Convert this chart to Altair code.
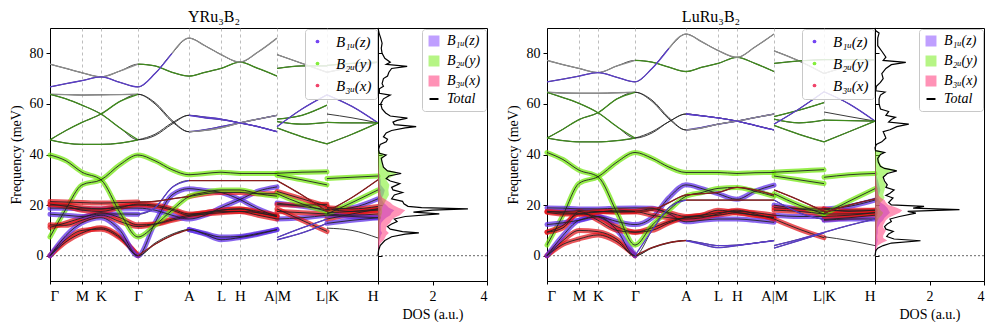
import json
import altair as alt
import pandas as pd

FONT = "Liberation Serif"

# ---------------- path / axes ----------------
NODE_U = [0, 32, 51, 88, 139, 171, 190, 227, 277, 328]
NODE_LABELS = ["Γ", "M", "K", "Γ", "A", "L", "H", "A|M", "L|K", "H"]
PIECE_U = [
    [0, 16, 32, 51, 70, 88, 105, 122, 139, 155, 171, 190, 208, 227],
    [227, 252, 277],
    [277, 302, 328],
]
Y_TICKS = [0, 20, 40, 60, 80]
DOS_TICKS = [2, 4]
TITLES = ["YRu₃B₂", "LuRu₃B₂"]

# ---------------- YRu3B2 bands (piece1 14 pts | piece2 3 | piece3 3) ----------------
Y_L1 = [0, 5.5, 9, 11, 7.5, 0, 5, 8.5, 10.3, 8.5, 6.3, 7.2, 8.5, 10.3, 6.3, 9, 12.8, 10.9, 10, 7]
Y_L2 = [0, 6.5, 10, 10.5, 7, 0, 4.5, 8, 10.3, 8.8, 7.4, 7.6, 8.8, 10.3, 7.2, 11, 14.5, 12.8, 14, 15]
Y_L3 = [0, 8, 13, 15, 10, 0, 13, 24, 26.5, 25.8, 25, 22.2, 18.5, 15.5, 14.5, 15, 16, 14.5, 16.5, 18.5]
Y_L4 = [7.4, 18.5, 28, 30, 36, 39.8, 37.5, 34, 32, 32.5, 33, 32.5, 32.5, 32.5, 32.6, 33, 33.2, 30.5, 31, 31.5]
Y_L5 = [11.2, 13, 15, 17, 15, 12.2, 12.5, 14, 15.5, 16.5, 17.5, 17.5, 16, 14.5, 17.5, 17, 16.5, 16.5, 16, 16.5]
Y_L6 = [12.2, 12, 14, 16, 13.5, 11.5, 12.5, 14.5, 16, 17, 18, 18.5, 17, 15.5, 18.5, 14, 9.6, 17, 17.5, 18.5]
Y_L7 = [16.4, 16, 15.5, 16.5, 16.5, 16.4, 19, 27, 29.7, 29.7, 29.7, 29.7, 29.7, 29.7, 29.7, 24, 17.5, 17.5, 23, 30]
Y_L8 = [18.8, 18.8, 18.5, 18.5, 18.8, 18.8, 18, 16, 14.5, 16, 19, 22.2, 25.5, 27.2, 20.8, 19.5, 18.2, 18.2, 19, 22.5]
Y_L9 = [21.4, 21.2, 21, 20.8, 21, 21.2, 21.5, 22.5, 23.4, 24.5, 25, 25, 24.5, 24.5, 25.4, 22.5, 19.5, 19, 18.5, 19.5]
Y_L10 = [20.4, 19.5, 18, 17.5, 19, 20.4, 20, 18.5, 16.5, 17, 18, 18.5, 17.5, 16, 20.2, 20, 20.3, 16, 15.5, 15]
Y_L11 = [20, 20, 19, 18.5, 19.5, 20, 19.5, 18, 16, 16.5, 17, 17.5, 17, 15.5, 24.5, 20.5, 17.5, 16.5, 21, 26]
Y_L12 = [39.8, 37.5, 33, 30, 17, 7.4, 12, 18, 23.4, 25, 26, 26, 24.5, 23.5, 31.8, 30, 28, 18.5, 17.5, 18]
Y_H1 = [75.7, 74, 72.3, 70.7, 73, 75.7, 75, 72.5, 71, 72.5, 74, 76.5, 74, 71, 79.5, 76, 72.5, 72.5, 74.5, 76.5]
Y_H2 = [66.7, 68, 69.2, 70.7, 68.5, 66.7, 72, 80, 86, 83, 79.5, 76.5, 80.5, 86, 74, 75, 75, 75.2, 76, 76.5]
Y_H3 = [63.8, 63.7, 63.5, 63.6, 63.7, 63.8, 60, 53, 49, 49.8, 51, 52.5, 54, 55.5, 54, 55.5, 59.5, 56, 54.5, 52.5]
Y_H4 = [63.8, 62, 59.5, 56, 50.5, 45.8, 47.5, 52, 55.5, 54.5, 53.8, 52.5, 51, 49, 53, 52, 52.7, 63.6, 59, 52.5]
Y_H5 = [45.8, 49.5, 52.7, 56, 61, 63.8, 60.5, 53.5, 49, 49.5, 50.5, 52.5, 54, 55.5, 51, 58, 63.6, 52.7, 52.5, 52.5]
Y_H6 = [45.8, 44.5, 44, 44, 44.5, 45.8, 48, 52.5, 55.5, 54.8, 54, 52.5, 51, 49, 50.5, 47, 44.2, 44.2, 48, 52.5]

# projection character per segment: x/y/z fat, X/Y/Z thin coloured, g grey, . plain
Y_PROJ = [
    "xxxxx...zzzzz|ZZ|..", "xxxxxXXXzzzzz|ZZ|zz", "zzzzzzzzzzzzz|zz|xx", "yyyyyyyyyyyyy|yy|yy",
    "xxxxxxxxxxxxx|xx|xx", "xxxxxxxxxxxxx|xx|xx", "zzzzzZZZXXXXX|XX|XX", "zzzzzzzzzzzzz|zz|zz",
    "xxxxxXXXxxxxx|xx|xx", "xxxxxxxxxxxxx|xx|zz", "xxxxxxxxxxxxx|yy|yy", "yyyyyyyyyyyyy|yy|xx",
    "gggggYYYYYYYY|gg|gg", "ZZZZZZZgggggg|YY|YY", "ggggg...ZZZZZ|YY|..", "YYYYY...ZZZZZ|YY|ZZ",
    "YYYYY...ggggg|ZZ|YY", "YYYYY...ZZZZZ|YY|YY",
]

# ---------------- LuRu3B2 bands ----------------
L_L1 = [0, 4.5, 6.6, 8.2, 5.5, 0, 3, 5, 6, 4.5, 3.2, 4, 5, 6, 3, 6, 9, 7.5, 6, 4]
L_L2 = [0, 6, 10, 9.5, 6.5, 0, 3.2, 5.2, 6, 5, 4, 4.2, 5, 6, 4, 6.5, 9.2, 9.2, 12, 14.5]
L_L3 = [0, 8, 14, 15.5, 10, 0, 10, 19, 22, 22, 22, 22, 22, 22, 22, 17, 14.3, 14.3, 15, 16]
L_L4 = [4.2, 16, 28.6, 31.2, 37, 40.8, 38.5, 35, 32.9, 32.9, 32.9, 32.5, 32.8, 32.9, 33, 33.5, 34, 31, 32, 32.5]
L_L5 = [9.3, 12, 16.5, 15.4, 11.5, 9.3, 10, 13, 15, 15.5, 16, 17, 16, 15, 14.5, 10.5, 7.1, 14, 14.5, 14.5]
L_L6 = [17.4, 17.4, 17.8, 17.5, 17.4, 17.4, 18, 21, 24, 24.5, 25, 27, 26, 24, 26, 22, 17.5, 17.5, 18, 18]
L_L7 = [12.3, 13, 14, 15.4, 13.5, 12.3, 15, 23, 28, 26.5, 24.5, 22.3, 25.5, 27.9, 20, 18.5, 17.5, 18.5, 19.5, 22]
L_L8 = [18.9, 18.8, 18.5, 18.5, 18.8, 18.9, 18.8, 16.5, 13.4, 14, 14.5, 14.5, 14, 13.2, 16, 15.5, 15.5, 15.5, 16, 17]
L_L9 = [17.2, 16.5, 16.5, 17.5, 17.2, 17.4, 16, 15, 14.5, 15, 16.5, 18, 16.5, 14.5, 18, 17.5, 16.5, 16.5, 16.5, 17]
L_L10 = [9.3, 11, 17.5, 14, 10, 9.3, 11, 13.5, 15.2, 16, 18, 17, 16, 15.2, 19, 18.5, 18.5, 18.5, 17.5, 18]
L_L11 = [17.6, 17, 16.8, 17.2, 18, 17.6, 18.5, 17, 15.5, 16, 17, 17.5, 17, 16, 24.5, 20, 16.5, 16.5, 21.5, 26.5]
L_L12 = [40.8, 38, 33.8, 31.2, 17, 4.2, 12, 18, 23.5, 25, 26.6, 27, 25.5, 23.5, 31.5, 30, 28.5, 17, 20, 22.5]
L_H1 = [77.2, 75.5, 74, 72.4, 75, 77.2, 76.5, 74.5, 72.8, 74.5, 76, 78.4, 76, 72.8, 81, 77, 72, 72, 75, 77.5]
L_H2 = [68.7, 69.8, 71, 72.4, 70.5, 68.7, 74, 82, 87.6, 84.5, 81.1, 78.4, 82.5, 87.6, 76, 77, 77.5, 77.5, 77.5, 77.5]
L_H3 = [64.6, 64.3, 64.2, 64.2, 64.4, 64.6, 61, 54, 49.7, 50.7, 52, 53.2, 54.6, 56, 55, 57.5, 60.5, 56.8, 55, 53.2]
L_H4 = [64.6, 62.5, 60.2, 56.5, 51, 46.5, 48.5, 53, 56, 55.3, 54.5, 53.2, 51.5, 49.7, 54, 52.5, 53.6, 64.8, 60, 53.2]
L_H5 = [46.5, 50, 53.8, 56.5, 62, 64.6, 61.5, 54.5, 49.7, 50.5, 52, 53.2, 54.6, 56, 52, 58, 64.8, 53.6, 53.4, 53.2]
L_H6 = [46.5, 45.5, 45, 45, 45.5, 46.5, 49, 53, 56, 55.3, 54.5, 53.2, 51.5, 49.7, 51.5, 48, 45, 45, 49, 53.2]

L_PROJ = [
    "xxxxx...ZZZZZ|ZZ|..", "xxxxxXXXZZZZZ|ZZ|ZZ", "zzzzzZZZXXXXX|ZZ|xx", "yyyyyyyyyyyyy|yy|yy",
    "xxxxxxxxxxxxx|xx|zz", "xxxxxXXXXXXXX|XX|xx", "zzzzzzzzzzzzz|zz|zz", "zzzzzzzzzzzzz|zz|xx",
    "xxxxxxxxxxxxx|xx|xx", "xxxxxxxxxxxxx|xx|xx", "xxxxxxxxxxxxx|yy|yy", "yyyyyyyyyyyyy|yy|XX",
    "gggggYYYYYYYY|gg|gg", "ZZZZZZZgggggg|YY|YY", "ggggg...ZZZZZ|YY|..", "YYYYY...ZZZZZ|YY|ZZ",
    "YYYYY...ggggg|ZZ|YY", "YYYYY...ZZZZZ|YY|YY",
]

# ---------------- DOS ----------------
Y_TOT_F = [0, 2, 4, 6, 7.5, 8.5, 9, 9.5, 10.5, 11.5, 12.5, 13.5, 14.5, 15.5, 16.5, 17.2, 18, 18.5, 19, 19.5,
           20.5, 21.5, 22.5, 24, 25, 26, 27, 28.5, 29.5, 30.5, 31.5, 32.5, 33.5, 35, 37, 38.5, 39.8, 40.5, 42, 44,
           45, 46, 47, 48.5, 49.5, 50.5, 51, 51.8, 52.8, 53.5, 54.4, 55.2, 56.4, 58, 60, 62, 63.5, 64.2, 66, 67,
           68, 70, 71, 72.5, 74, 74.8, 75.6, 76.5, 78, 80, 82, 84, 86, 88, 90]
Y_TOT_D = [0, 0.02, 0.08, 0.25, 0.5, 1.0, 1.5, 0.9, 0.45, 0.35, 0.5, 0.7, 0.6, 1.0, 2.25, 1.3, 2.0, 3.3, 1.6, 1.1,
           0.95, 0.9, 0.5, 0.6, 0.9, 0.55, 0.5, 0.8, 0.45, 0.3, 0.4, 0.85, 0.35, 0.2, 0.15, 0.12, 0.3, 0.05, 0.02, 0.08,
           0.3, 0.35, 0.2, 0.3, 0.5, 1.0, 1.4, 0.6, 0.55, 0.7, 1.08, 0.45, 0.28, 0.15, 0.1, 0.2, 0.45, 0.05, 0.05, 0.2,
           0.15, 0.2, 0.35, 0.4, 0.5, 1.07, 0.3, 0.45, 0.25, 0.15, 0.12, 0.15, 0.1, 0.04, 0]
L_TOT_F = [0, 2, 3, 4, 5, 5.9, 6.6, 7.6, 8.6, 9.6, 10.5, 11.5, 12.5, 13.5, 14.5, 15.5, 16.8, 17.5, 18.2, 18.8,
           19.5, 20.1, 21, 22.8, 23.8, 24.7, 26, 27, 28, 29.5, 31, 32.5, 33.5, 34.5, 35.3, 37, 38.5, 40, 40.8, 41.5,
           42.6, 44, 45, 46.5, 47.8, 49, 49.8, 51, 52, 52.8, 53.8, 54.7, 55.5, 57, 58, 60, 62, 63.5, 64.7, 65.2,
           67, 68.5, 70, 72, 74, 75.5, 76.4, 77.2, 78.5, 80.8, 83, 86, 88, 89, 90]
L_TOT_D = [0, 0.03, 0.1, 0.3, 0.6, 1.67, 0.7, 0.43, 0.5, 0.67, 0.4, 0.35, 0.45, 0.6, 0.55, 0.9, 1.5, 1.2, 3.1, 1.4,
           1.8, 0.6, 0.5, 0.66, 0.4, 0.55, 0.7, 0.4, 0.45, 0.35, 0.3, 0.45, 0.8, 0.35, 0.2, 0.12, 0.1, 0.2, 0.35, 0.02,
           0, 0.05, 0.25, 0.4, 0.35, 0.3, 0.55, 0.8, 1.24, 0.5, 0.6, 0.75, 0.4, 0.5, 0.2, 0.15, 0.15, 0.2, 0.37, 0.03,
           0.05, 0.2, 0.3, 0.25, 0.4, 0.6, 1.13, 0.3, 0.4, 0.25, 0.1, 0.1, 0.15, 0.02, 0]

PF = [0, 2, 4, 5, 6, 7, 8, 9, 10, 11, 12, 13, 14, 15, 16, 17, 18, 19, 20, 21, 22, 23, 24, 26, 28, 30, 32, 33, 34,
      35, 36, 38, 40, 41, 42]
Y_PX = [0, 0.01, 0.05, 0.1, 0.2, 0.25, 0.3, 0.4, 0.3, 0.3, 0.35, 0.45, 0.5, 0.6, 0.8, 0.9, 1.0, 0.75, 0.55, 0.45,
        0.3, 0.15, 0.1, 0.08, 0.06, 0.04, 0.03, 0.03, 0.02, 0.02, 0.01, 0.01, 0.01, 0, 0]
Y_PY = [0, 0, 0.01, 0.02, 0.03, 0.05, 0.05, 0.05, 0.05, 0.05, 0.05, 0.06, 0.08, 0.1, 0.12, 0.15, 0.15, 0.15, 0.2,
        0.25, 0.3, 0.35, 0.4, 0.38, 0.42, 0.3, 0.65, 0.7, 0.3, 0.2, 0.15, 0.15, 0.25, 0.05, 0]
Y_PZ = [0, 0.01, 0.02, 0.03, 0.05, 0.08, 0.1, 0.15, 0.1, 0.1, 0.1, 0.12, 0.2, 0.3, 0.45, 0.5, 0.6, 0.4, 0.3, 0.2,
        0.15, 0.15, 0.2, 0.25, 0.1, 0.1, 0.05, 0.04, 0.03, 0.02, 0.02, 0.01, 0.01, 0, 0]
L_PX = [0, 0.02, 0.1, 0.25, 0.45, 0.3, 0.3, 0.35, 0.4, 0.3, 0.3, 0.35, 0.4, 0.5, 0.7, 0.9, 1.0, 0.8, 0.5, 0.4,
        0.35, 0.2, 0.12, 0.1, 0.06, 0.04, 0.03, 0.03, 0.02, 0.02, 0.01, 0.01, 0.01, 0, 0]
L_PY = [0, 0, 0.01, 0.02, 0.03, 0.03, 0.04, 0.05, 0.05, 0.05, 0.06, 0.08, 0.1, 0.15, 0.25, 0.3, 0.2, 0.15, 0.15,
        0.2, 0.3, 0.35, 0.3, 0.35, 0.4, 0.3, 0.35, 0.5, 0.75, 0.3, 0.2, 0.15, 0.2, 0.3, 0]
L_PZ = [0, 0.02, 0.05, 0.08, 0.1, 0.08, 0.08, 0.1, 0.1, 0.1, 0.15, 0.2, 0.3, 0.35, 0.45, 0.55, 0.5, 0.45, 0.35,
        0.2, 0.15, 0.12, 0.15, 0.2, 0.15, 0.1, 0.05, 0.04, 0.03, 0.02, 0.02, 0.01, 0.01, 0, 0]

# ---------------- legends / colours ----------------
BAND_LEG = ["B₁ᵤ(z)", "B₂ᵤ(y)", "B₃ᵤ(x)"]
BAND_LEG_COLORS = ["#7444f2", "#84ee3c", "#f0446a"]
DOS_LEG = ["B₁ᵤ(z)", "B₂ᵤ(y)", "B₃ᵤ(x)", "Total"]
DOS_LEG_COLORS = ["#bf9fff", "#b6f585", "#ff92b6", "black"]
DOS_LEG_SHAPES = ["square", "square", "square", "stroke"]
DOS_FILL = ["#7f3fff", "#6cee0a", "#ff2a70"]
PROJ_DOMAIN = ["x", "y", "z", "X", "Y", "Z", "g"]
PROJ_COLORS = ["#e0151b", "#70e80a", "#5a2ae6", "#8c1c1c", "#3f8a1c", "#5a3dc8", "#8c8c8c"]

XS = alt.Scale(domain=[0, 328], nice=False, zero=False)
YS = alt.Scale(domain=[-10, 90], nice=False, zero=False)
DS = alt.Scale(domain=[0, 4], nice=False, zero=False)


def build_bands(tag, bands, projs):
    base, runs = [], []
    for bi, (vals, proj) in enumerate(zip(bands, projs)):
        proj = proj.replace("|", "")
        k = 0
        s = 0
        for pi, us in enumerate(PIECE_U):
            fs = vals[k:k + len(us)]
            k += len(us)
            key = f"{tag}{bi}_{pi}"
            for u, f in zip(us, fs):
                base.append({"key": key, "u": u, "f": f})
            chars = proj[s:s + len(us) - 1]
            s += len(us) - 1
            start = 0
            for j in range(1, len(chars) + 1):
                if j == len(chars) or chars[j] != chars[start]:
                    c = chars[start]
                    if c != ".":
                        rkey = f"{key}_{start}"
                        for m in range(start, j + 1):
                            runs.append({"key": rkey, "proj": c, "u": us[m], "f": fs[m], "fat": c in "xyz"})
                    start = j
    runs = pd.DataFrame(runs)
    fat = runs[runs["fat"]].drop(columns="fat")
    thin = runs[~runs["fat"]].drop(columns="fat")
    return pd.DataFrame(base), fat, thin


XLABEL_EXPR = (f"{json.dumps(NODE_LABELS, ensure_ascii=False)}"
               f"[indexof({json.dumps(NODE_U)}, datum.value)]")


def bx():
    return alt.X("u:Q", scale=XS, axis=alt.Axis(
        values=NODE_U, labelExpr=XLABEL_EXPR, grid=True, gridDash=[3, 3], gridColor="#a0a0a0",
        gridWidth=0.7, title=None, labelFont=FONT, labelFontSize=15, labelPadding=4, tickSize=3,
        labelAngle=0, labelColor="black"))


def by():
    return alt.Y("f:Q", scale=YS, axis=alt.Axis(
        values=Y_TICKS, title="Frequency (meV)", grid=False, tickSize=4, labelFont=FONT, titleFont=FONT,
        labelFontSize=14, titleFontSize=14, labelPadding=3, titlePadding=6, titleFontWeight="normal",
        labelColor="black", titleColor="black"))


def band_chart(title, bands, projs, tag):
    base, fat, thin = build_bands(tag, bands, projs)
    stroke_fat = alt.Stroke("proj:N", scale=alt.Scale(domain=PROJ_DOMAIN, range=PROJ_COLORS), legend=None)
    fat_l = alt.Chart(fat).mark_line(strokeWidth=5, strokeOpacity=0.72, interpolate="monotone",
                                     strokeCap="round").encode(
        x=bx(), y=by(), stroke=stroke_fat, detail="key:N")
    base_l = alt.Chart(base).mark_line(color="#222222", strokeWidth=0.9, interpolate="monotone").encode(
        x=bx(), y=by(), detail="key:N")
    thin_l = alt.Chart(thin).mark_line(strokeWidth=1.3, interpolate="monotone").encode(
        x=bx(), y=by(), stroke=stroke_fat, detail="key:N")
    zero = alt.Chart(pd.DataFrame({"f": [0]})).mark_rule(
        color="#555555", strokeDash=[2, 2], strokeWidth=0.9).encode(y=by())
    leg = alt.Chart(pd.DataFrame({"lab": BAND_LEG})).mark_point(filled=True, size=14, opacity=1).encode(
        color=alt.Color("lab:N", scale=alt.Scale(domain=BAND_LEG, range=BAND_LEG_COLORS), legend=alt.Legend(
            title=None, orient="top-right", offset=1, padding=5, fillColor="rgba(255,255,255,0.85)",
            strokeColor="#c8c8c8", cornerRadius=3, symbolType="circle", symbolSize=14,
            labelFont=FONT, labelFontSize=15, labelFontStyle="italic", rowPadding=6, labelOffset=11,
            labelColor="black"))
    ).transform_filter("false")
    return alt.layer(fat_l, zero, base_l, thin_l, leg).properties(
        width=328, height=253,
        title=alt.TitleParams(text=title, font=FONT, fontSize=16, fontWeight="normal", offset=3))


def dx():
    return alt.X("d:Q", scale=DS, stack=None, axis=alt.Axis(
        values=DOS_TICKS, title="DOS (a.u.)", grid=False, tickSize=4, labelFont=FONT, titleFont=FONT,
        labelFontSize=14, titleFontSize=14, labelPadding=4, titlePadding=4, titleFontWeight="normal",
        labelColor="black", titleColor="black"))


def dy():
    return alt.Y("f:Q", scale=YS, axis=alt.Axis(
        values=Y_TICKS, labels=False, domain=False, tickSize=4, offset=-4, title=None, grid=False))


def dos_chart(tf, td, px, py, pz):
    tot = pd.DataFrame({"f": tf, "d": td})
    rows = []
    for name, arr in zip(BAND_LEG, [pz, py, px]):
        for f, d in zip(PF, arr):
            rows.append({"s": name, "f": f, "d": d})
    proj = pd.DataFrame(rows)
    areas = alt.Chart(proj).mark_area(orient="horizontal", fillOpacity=0.5).encode(
        x=dx(), y=dy(), fill=alt.Fill("s:N", scale=alt.Scale(domain=BAND_LEG, range=DOS_FILL), legend=None),
        detail="s:N")
    line = alt.Chart(tot).mark_line(color="black", strokeWidth=1.2).encode(
        x=dx(), y=dy(), order="f:Q")
    zero = alt.Chart(pd.DataFrame({"f": [0]})).mark_rule(
        color="#555555", strokeDash=[2, 2], strokeWidth=0.9).encode(y=dy())
    leg_scale_c = alt.Scale(domain=DOS_LEG, range=DOS_LEG_COLORS)
    leg = alt.Chart(pd.DataFrame({"s": DOS_LEG})).mark_point(filled=True, size=80, opacity=1).encode(
        color=alt.Color("s:N", scale=leg_scale_c, legend=alt.Legend(
            title=None, orient="top-right", offset=1, padding=5, fillColor="rgba(255,255,255,0.85)",
            strokeColor="#c8c8c8", cornerRadius=3, symbolSize=80, symbolStrokeWidth=2,
            labelFont=FONT, labelFontSize=14, labelFontStyle="italic", rowPadding=2, labelOffset=6,
            labelColor="black")),
        stroke=alt.Stroke("s:N", scale=alt.Scale(domain=DOS_LEG, range=DOS_LEG_COLORS)),
        shape=alt.Shape("s:N", scale=alt.Scale(domain=DOS_LEG, range=DOS_LEG_SHAPES)),
    ).transform_filter("false")
    return alt.layer(areas, line, zero, leg).properties(width=109, height=253)


RES = dict(color="independent", stroke="independent", fill="independent", shape="independent")

Y_BANDS = [Y_L1, Y_L2, Y_L3, Y_L4, Y_L5, Y_L6, Y_L7, Y_L8, Y_L9, Y_L10, Y_L11, Y_L12,
           Y_H1, Y_H2, Y_H3, Y_H4, Y_H5, Y_H6]
L_BANDS = [L_L1, L_L2, L_L3, L_L4, L_L5, L_L6, L_L7, L_L8, L_L9, L_L10, L_L11, L_L12,
           L_H1, L_H2, L_H3, L_H4, L_H5, L_H6]

left = alt.hconcat(
    band_chart(TITLES[0], Y_BANDS, Y_PROJ, "Y"),
    dos_chart(Y_TOT_F, Y_TOT_D, Y_PX, Y_PY, Y_PZ),
    spacing=0, bounds="flush").resolve_scale(**RES)
right = alt.hconcat(
    band_chart(TITLES[1], L_BANDS, L_PROJ, "L"),
    dos_chart(L_TOT_F, L_TOT_D, L_PX, L_PY, L_PZ),
    spacing=0, bounds="flush").resolve_scale(**RES)

chart = alt.hconcat(left, right, spacing=17).resolve_scale(**RES).properties(
    padding=0, background="white"
).configure_view(stroke="black", strokeWidth=1).configure_axis(
    labelFont=FONT, titleFont=FONT, labelColor="black", titleColor="black", domainColor="black",
    tickColor="black", titleFontWeight="normal", domainWidth=1
).configure_title(font=FONT, color="black")

chart.save("out.html", embed_options={"renderer": "svg", "actions": False})
